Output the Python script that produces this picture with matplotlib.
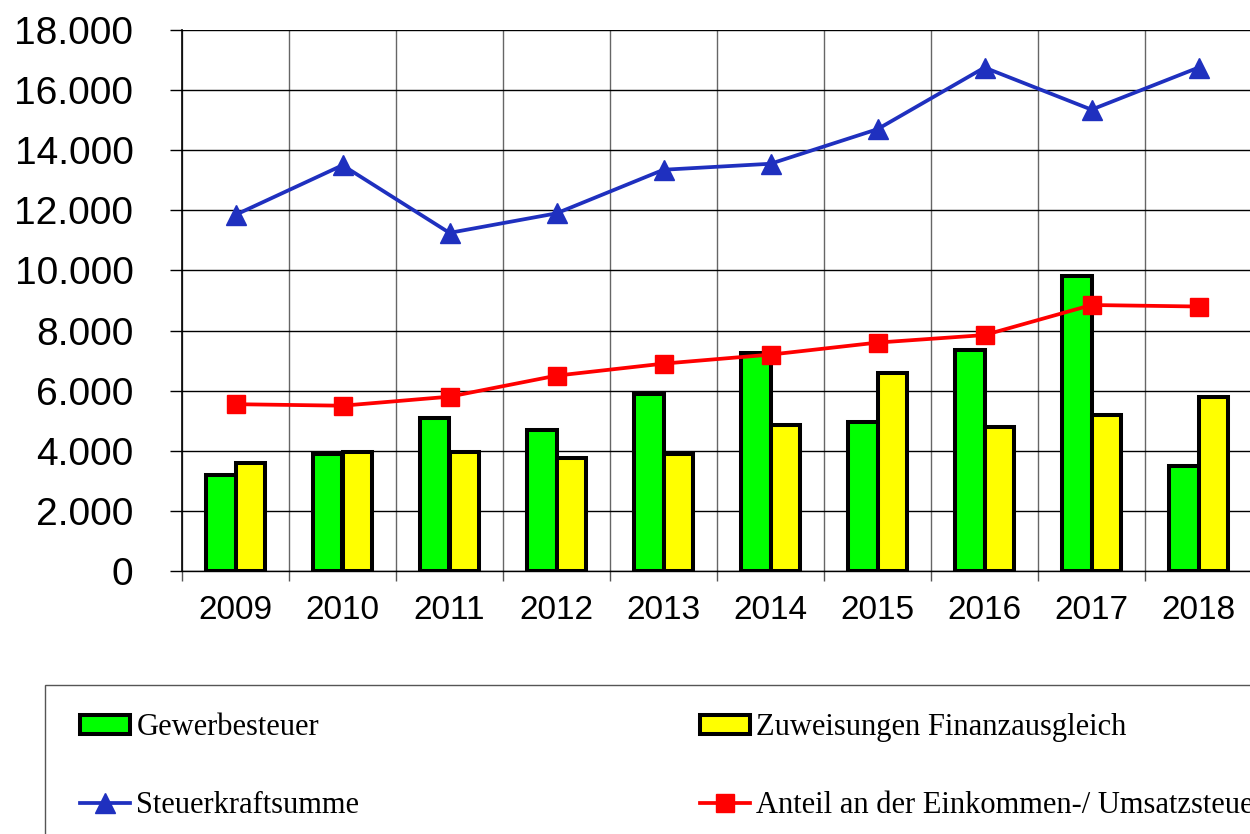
import numpy as np
import matplotlib.pyplot as plt
from matplotlib.patches import Patch, Rectangle
from matplotlib.lines import Line2D
from matplotlib.ticker import FuncFormatter

years = ['2009', '2010', '2011', '2012', '2013', '2014', '2015', '2016', '2017', '2018']
gewerbesteuer = [3200, 3900, 5100, 4700, 5900, 7250, 4950, 7350, 9800, 3500]
zuweisungen = [3600, 3950, 3950, 3750, 3900, 4850, 6600, 4800, 5200, 5800]
steuerkraft = [11850, 13500, 11250, 11900, 13350, 13550, 14700, 16750, 15350, 16750]
anteil_est = [5550, 5500, 5800, 6500, 6900, 7200, 7600, 7850, 8850, 8800]

GREEN = '#00ff00'
YELLOW = '#ffff00'
BLUE = '#1f30bf'
RED = '#ff0000'

fig = plt.figure(figsize=(12.5, 8.34), dpi=100)
W, H = 1250, 834
ax = fig.add_axes([182 / W, 1 - 571 / H, 1070 / W, 541 / H])

x = np.arange(len(years))
bw = 0.28
ax.bar(x - bw / 2, gewerbesteuer, bw, color=GREEN, edgecolor='black', linewidth=2.9, zorder=3)
ax.bar(x + bw / 2, zuweisungen, bw, color=YELLOW, edgecolor='black', linewidth=2.9, zorder=3)
ax.plot(x, steuerkraft, color=BLUE, lw=2.7, marker='^', ms=15, zorder=4)
ax.plot(x, anteil_est, color=RED, lw=2.7, marker='s', ms=13, zorder=4)

ax.set_xlim(-0.5, len(years) - 0.5)
ax.set_ylim(0, 18000)
ax.set_yticks(np.arange(0, 18001, 2000))
ax.yaxis.set_major_formatter(FuncFormatter(lambda v, p: f'{int(v):,}'.replace(',', '.')))
ax.set_xticks(x)
ax.set_xticklabels(years)
ax.set_xticks(np.arange(-0.5, len(years), 1), minor=True)

for lab in ax.get_yticklabels():
    lab.set_fontfamily('Liberation Sans')
for lab in ax.get_xticklabels():
    lab.set_fontfamily('Liberation Sans')
ax.tick_params(axis='y', labelsize=28, length=9, width=1, direction='out', pad=26)
ax.tick_params(axis='x', which='major', labelsize=24, length=0, pad=17)
ax.tick_params(axis='x', which='minor', length=7.5, width=1, color='#555555')

ax.grid(axis='y', color='black', lw=1, zorder=0)
ax.grid(axis='x', which='minor', color='#666666', lw=1, zorder=0)
ax.set_axisbelow(True)
for s in ['top', 'right']:
    ax.spines[s].set_visible(False)
ax.spines['left'].set_linewidth(1.2)
ax.spines['bottom'].set_linewidth(1)

# legend box runs off the page on the right and bottom
fig.patches.append(Rectangle((45 / W, -0.1), 1.0, 0.1 + (834 - 685) / H, transform=fig.transFigure,
                             fill=False, edgecolor='#555555', lw=1))

handles = [
    Patch(facecolor=GREEN, edgecolor='black', linewidth=2.9),
    Line2D([], [], color=BLUE, lw=2.7, marker='^', ms=15),
    Patch(facecolor=YELLOW, edgecolor='black', linewidth=2.9),
    Line2D([], [], color=RED, lw=2.7, marker='s', ms=13),
]
labels = ['Gewerbesteuer', 'Steuerkraftsumme', 'Zuweisungen Finanzausgleich',
          'Anteil an der Einkommen-/ Umsatzsteuer']
fig.legend(handles, labels, ncol=2, frameon=False, loc='upper left',
           bbox_to_anchor=(68 / W, 1 - 701 / H), prop={'family': 'Liberation Serif', 'size': 22},
           handlelength=1.64, handleheight=0.6, handletextpad=0.2, columnspacing=11.15,
           labelspacing=1.6, borderaxespad=0)

fig.savefig('out.png', dpi=100)
